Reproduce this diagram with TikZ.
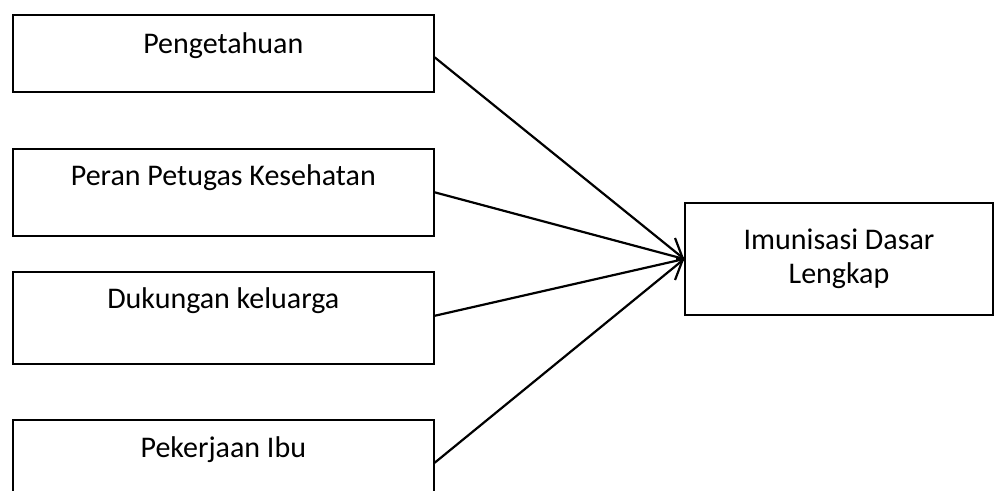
\documentclass[tikz,border=0pt]{standalone}
\usepackage{fontspec}
\setmainfont{Carlito}
\usetikzlibrary{arrows.meta}

\begin{document}
\begin{tikzpicture}[x=0.5pt,y=-0.5pt,
                    factor/.style={draw,line width=0.8pt,anchor=north west,inner sep=0pt,
                                   minimum width=210.5pt,font=\fontsize{15pt}{17pt}\selectfont},
                    outcome/.style={draw,line width=0.8pt,inner sep=0pt,minimum width=154pt,
                                    minimum height=56pt,align=center,font=\fontsize{15pt}{17pt}\selectfont},
                    link/.style={line width=1.1pt}]
                    \useasboundingbox (0,0) rectangle (994,491);
                    \begin{scope}
                    \clip (0,0) rectangle (994,491);
                    \node[factor,text height=19.5pt,text depth=19pt](peng) at (12,14){Pengetahuan};
                    \node[factor,text height=18.5pt,text depth=25pt](peran) at (12,148){Peran Petugas Kesehatan};
                    \node[factor,text height=18.5pt,text depth=27.5pt](dukung) at (12,271){Dukungan keluarga};
                    \node[factor,text height=19pt,text depth=24pt](kerja) at (12,419){Pekerjaan Ibu};
                    \node[outcome](imun) at (839,259){Imunisasi Dasar\\Lengkap};
                    \coordinate (tipback) at ([xshift=-4pt]imun.west);
                    \draw[link]([yshift=-2pt]peng.east)--(imun.west);
                    \draw[link](peran.east)--(imun.west);
                    \draw[link]([yshift=1pt]dukung.east)--(imun.west);
                    \draw[link](kerja.east)--(imun.west);
                    \draw[link,-{Straight Barb[length=4pt,width=21pt]}](tipback)--(imun.west);
                    \end{scope}
                \end{tikzpicture}
\end{document}
